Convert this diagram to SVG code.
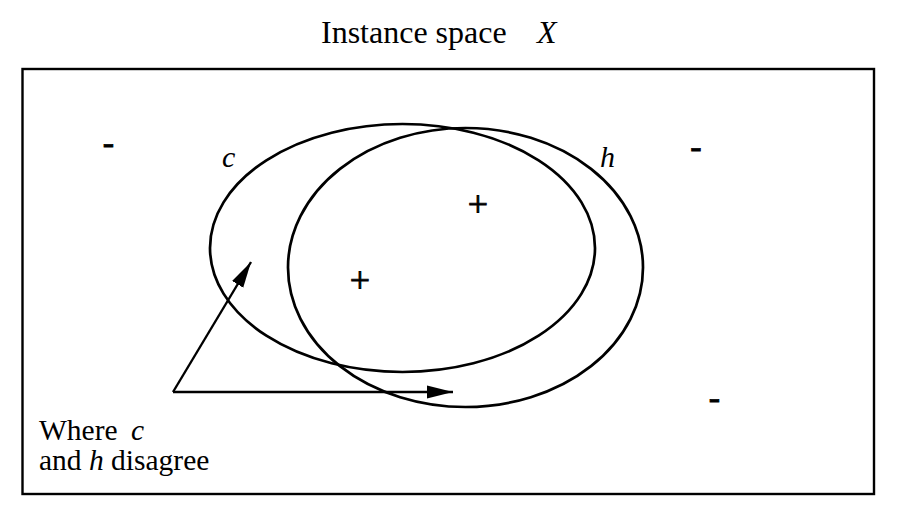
<svg xmlns="http://www.w3.org/2000/svg" width="910" height="517" viewBox="0 0 910 517">
<defs>
<style>
.t{font-family:"Liberation Serif","Times New Roman",serif;fill:#000}
.i{font-style:italic}
.s{stroke:#000;stroke-width:0.8}
.ln{fill:none;stroke:#000;stroke-width:2.7}
.fr{fill:none;stroke:#000;stroke-width:2.4}
.ar{fill:none;stroke:#000;stroke-width:2.4}
</style>
<marker id="ah" markerUnits="userSpaceOnUse" markerWidth="28" markerHeight="14" refX="26" refY="7" orient="auto">
<path d="M0,0.5 L26,7 L0,13.5 Z" fill="#000"/>
</marker>
</defs>
<rect width="910" height="517" fill="#fff"/>
<text class="t" x="321" y="43" font-size="32">Instance space</text>
<text class="t i" x="537" y="43" font-size="32">X</text>
<g id="space">
<rect class="fr" x="22.5" y="69" width="851.5" height="425"/>
</g>
<g id="c">
<ellipse class="ln" cx="402.5" cy="248" rx="192.5" ry="124"/>
<text class="t i" x="222" y="167" font-size="30">c</text>
</g>
<g id="h">
<ellipse class="ln" cx="465.5" cy="267.5" rx="177.5" ry="139.5"/>
<text class="t i" x="600" y="167" font-size="30">h</text>
</g>
<g id="signs">
<text class="t s" x="108.5" y="154" font-size="34" text-anchor="middle">-</text>
<text class="t s" x="696" y="158" font-size="34" text-anchor="middle">-</text>
<text class="t s" x="714.5" y="409" font-size="34" text-anchor="middle">-</text>
<text class="t s" x="478" y="216" font-size="36" text-anchor="middle">+</text>
<text class="t s" x="360" y="292" font-size="36" text-anchor="middle">+</text>
</g>
<g id="label">
<text class="t" x="39" y="440" font-size="29.5">Where</text>
<text class="t i" x="131" y="440" font-size="29.5">c</text>
<text class="t" x="39" y="470" font-size="29.5">and <tspan class="i">h</tspan> disagree</text>
</g>
<g id="connectors">
<line class="ar" x1="173" y1="392" x2="251" y2="262" marker-end="url(#ah)"/>
<line class="ar" x1="173" y1="392" x2="453" y2="392" marker-end="url(#ah)"/>
</g>
</svg>
